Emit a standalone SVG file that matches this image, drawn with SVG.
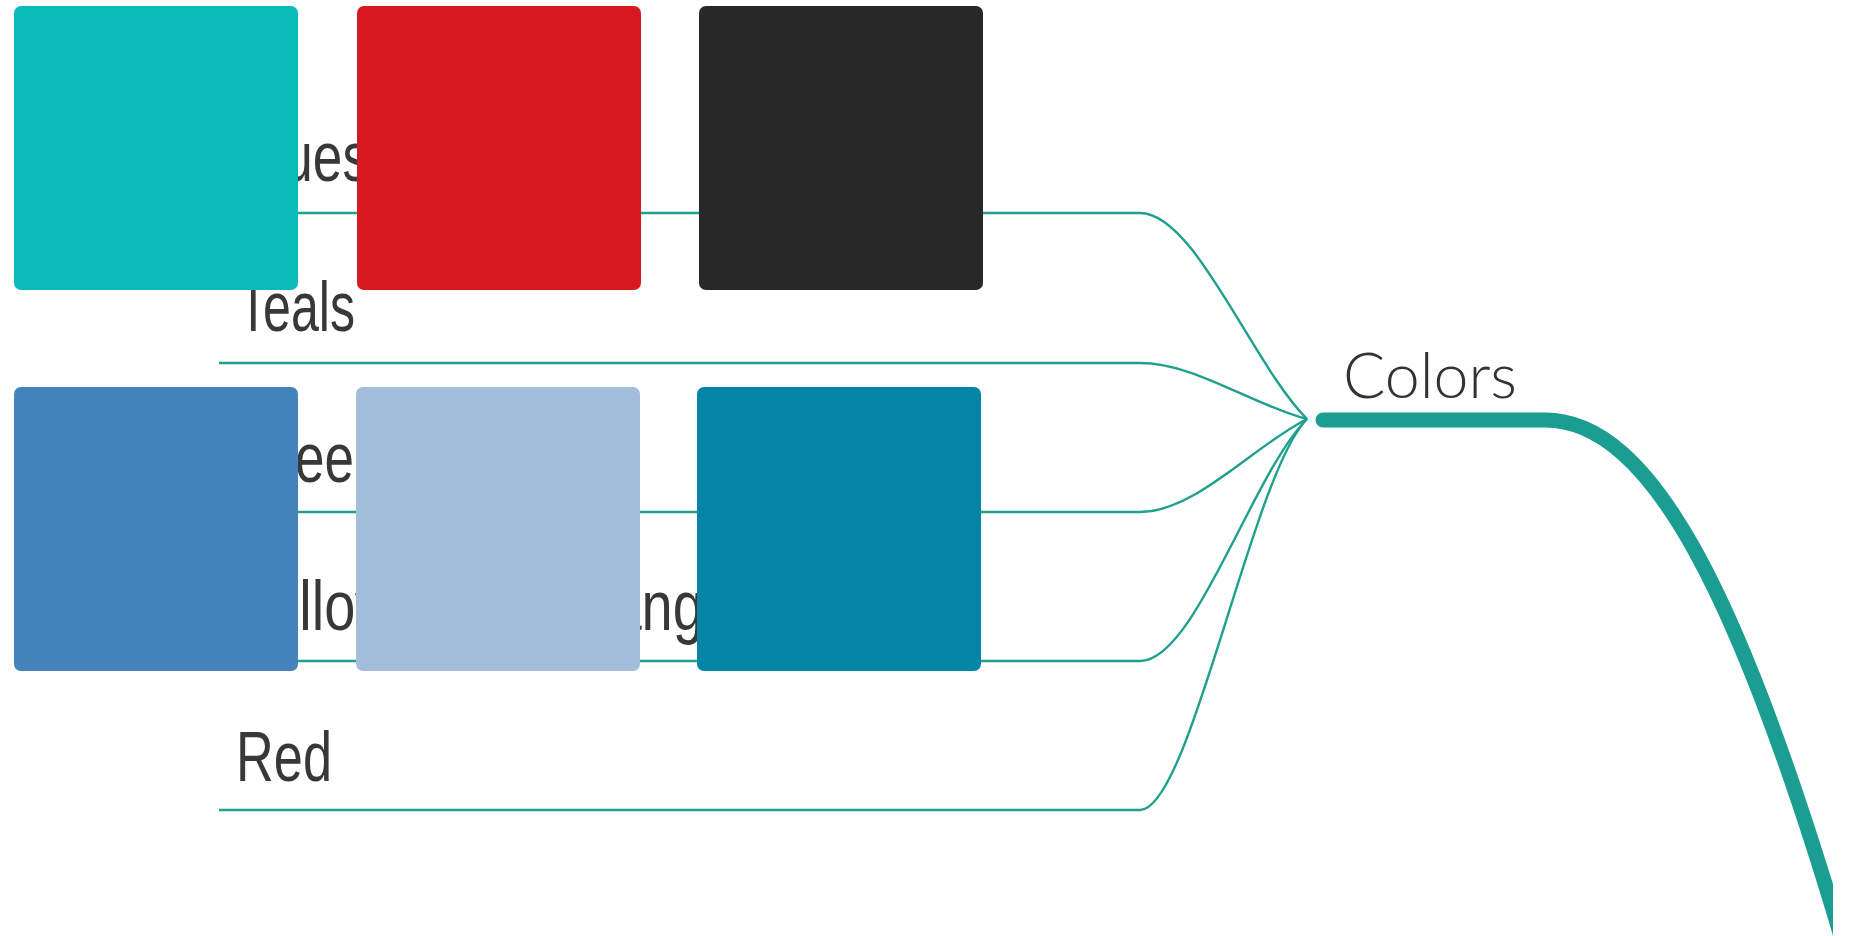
<svg xmlns="http://www.w3.org/2000/svg" width="1850" height="936" viewBox="0 0 1850 936">
  <style>
    .branch { fill: none; stroke: #1fa08f; stroke-width: 2.4; }
    .trunk { fill: none; stroke: #1b9e91; stroke-width: 15; stroke-linecap: round; }
    .label { font-family: "Liberation Sans", Arial, sans-serif; font-size: 70px; fill: #383838; }
    .topic { font-family: Lato, "Liberation Sans", Arial, sans-serif; font-weight: 300; font-size: 64px; fill: #333333; }
    .swatch { stroke: none; }
  </style>
  <defs>
    <clipPath id="sheet-clip">
      <rect x="0" y="0" width="1833" height="936"/>
    </clipPath>
  </defs>
  <rect width="1850" height="936" fill="#ffffff"/>

  <!-- branch connectors: from each subtopic into the central hub -->
  <g id="connectors">
    <path class="branch" d="M219,213 H1140 C1195,213 1252,364 1307,419"/>
    <path class="branch" d="M219,363 H1140 C1195,363 1252,405 1307,419"/>
    <path class="branch" d="M219,512 H1140 C1195,512 1252,447 1307,419"/>
    <path class="branch" d="M219,661 H1140 C1195,661 1252,474 1307,419"/>
    <path class="branch" d="M219,810 H1140 C1190,810 1252,474 1307,419"/>
    <path class="trunk" clip-path="url(#sheet-clip)" d="M1323,420 H1545 C1650,420 1740,590 1848,960"/>
  </g>

  <!-- central topic -->
  <g id="node-colors">
    <text class="topic" x="1343" y="398" textLength="174" lengthAdjust="spacingAndGlyphs">Colors</text>
  </g>

  <!-- subtopics -->
  <g id="node-blues">
    <text class="label" x="236" y="181" textLength="133" lengthAdjust="spacingAndGlyphs">Blues</text>
  </g>
  <g id="node-teals">
    <text class="label" x="238" y="331" textLength="117" lengthAdjust="spacingAndGlyphs">Teals</text>
  </g>
  <g id="node-greens">
    <text class="label" x="236" y="482" textLength="174" lengthAdjust="spacingAndGlyphs">Greens</text>
  </g>
  <g id="node-yellows">
    <text class="label" x="236" y="630" textLength="527" lengthAdjust="spacingAndGlyphs">Yellows and Oranges</text>
  </g>
  <g id="node-red">
    <text class="label" x="236" y="781" textLength="96" lengthAdjust="spacingAndGlyphs">Red</text>
  </g>

  <!-- colour swatches laid over the map -->
  <g id="swatches">
    <rect id="swatch-teal" class="swatch" x="14" y="6" width="284" height="284" rx="7" fill="#0bbbb7"/>
    <rect id="swatch-red" class="swatch" x="357" y="6" width="284" height="284" rx="7" fill="#d8191f"/>
    <rect id="swatch-black" class="swatch" x="699" y="6" width="284" height="284" rx="7" fill="#282828"/>
    <rect id="swatch-blue" class="swatch" x="14" y="387" width="284" height="284" rx="7" fill="#4583bd"/>
    <rect id="swatch-lightblue" class="swatch" x="356" y="387" width="284" height="284" rx="7" fill="#a3bedb"/>
    <rect id="swatch-darkteal" class="swatch" x="697" y="387" width="284" height="284" rx="7" fill="#0585a6"/>
  </g>
</svg>
